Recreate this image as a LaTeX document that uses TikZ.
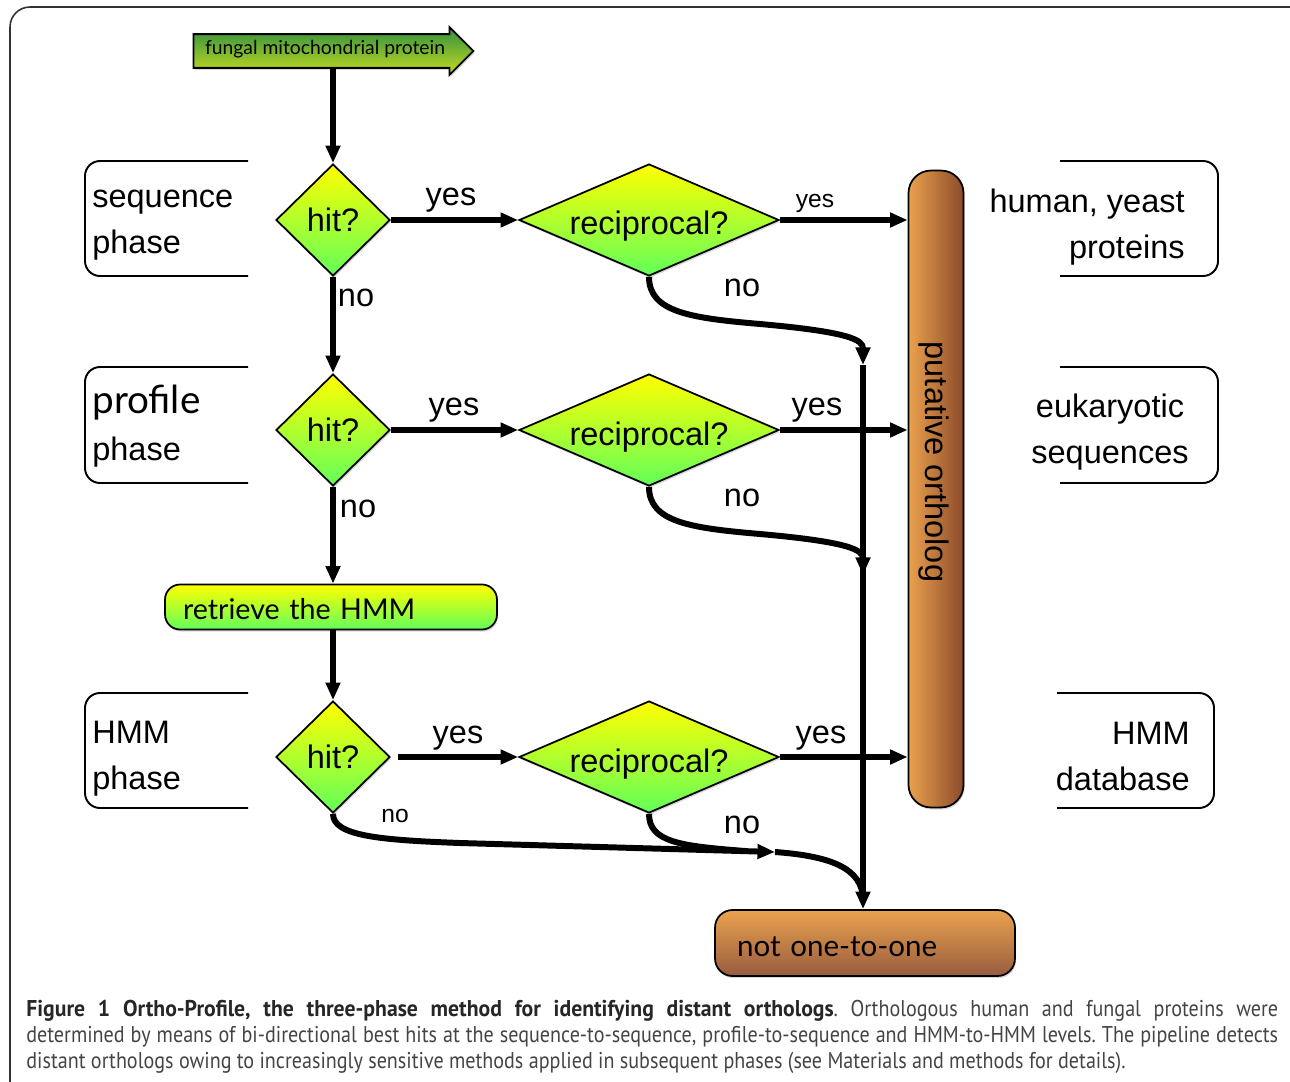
\documentclass[tikz,border=0pt]{standalone}
\usepackage{fontspec}
\setmainfont{Liberation Sans}
\newfontfamily\gillfont{Lato}
\newfontfamily\capfont[FakeStretch=0.88,BoldFeatures={FakeStretch=0.95}]{PT Sans}
\usetikzlibrary{arrows.meta,shapes.geometric,shapes.arrows,shadows}

\definecolor{lemon}{HTML}{FFFF00}
\definecolor{leafgreen}{HTML}{62FF5A}
\definecolor{apricot}{HTML}{EAA24E}
\definecolor{rust}{HTML}{8C4A2A}
\definecolor{moss}{HTML}{2F8F3F}
\definecolor{lime}{HTML}{C6DC20}
\definecolor{capgray}{HTML}{444444}

\tikzset{
  big/.style={font=\fontsize{18.5}{26}\selectfont},
  small/.style={font=\fontsize{14}{16}\selectfont},
  lab/.style={big, inner sep=0pt},
  smalllab/.style={small, inner sep=0pt},
  flow/.style={line width=3.4pt, -{Triangle[length=10pt,width=8pt]}},
  plainflow/.style={line width=3.4pt},
  softshadow/.style={drop shadow={shadow xshift=0.6pt,shadow yshift=-1.2pt,opacity=0.3}},
  hitbox/.style={diamond, draw, line width=1pt, minimum width=2.28cm, minimum height=2.24cm,
    inner sep=0pt, top color=lemon, bottom color=leafgreen, big, softshadow},
  recipbox/.style={hitbox, minimum width=5.2cm, aspect=2.3, text height=0.62cm, text depth=0.02cm},
  bracket/.style={line width=1.1pt, rounded corners=0.3cm},
  framebox/.style={line width=0.9pt, black!80, rounded corners=0.4cm},
}

\begin{document}
\begin{tikzpicture}[x=0.02cm,y=-0.02cm]
\useasboundingbox (0,0) rectangle (1290,1081);
\draw[framebox] (10,7) rectangle (1330,1120);

% start arrow
\node[single arrow, draw, line width=1pt, top color=moss, bottom color=lime,
  minimum height=5.6cm, single arrow head extend=0.14cm, single arrow head indent=0pt,
  text height=0.24cm, text depth=0.1cm, inner ysep=0.15cm, inner xsep=0.1cm,
  font=\gillfont\fontsize{11}{13}\selectfont, softshadow] (protein) at (325,51) {fungal mitochondrial protein};

% phase brackets
\draw[bracket] (248,161) -- (85,161) -- (85,276) -- (248,276);
\draw[bracket] (248,367) -- (85,367) -- (85,483) -- (248,483);
\draw[bracket] (248,693) -- (85,693) -- (85,808) -- (248,808);
\draw[bracket] (1060,161) -- (1218,161) -- (1218,276) -- (1060,276);
\draw[bracket] (1060,367) -- (1218,367) -- (1218,483) -- (1060,483);
\draw[bracket] (1057,693) -- (1214,693) -- (1214,808) -- (1057,808);

\node[lab, anchor=base west, align=left] (seqtxt) at (92,253) {sequence\\phase};
\node[inner sep=0pt, anchor=base west, font=\gillfont\fontsize{22}{26}\selectfont] (proftxt) at (92,413) {profile};
\node[lab, anchor=base west] (profphase) at (92,460) {phase};
\node[lab, anchor=base west, align=left] (hmmtxt) at (92,789) {HMM\\phase};
\node[lab, anchor=base east, align=right] (humantxt) at (1185,258) {human, yeast\\proteins};
\node[lab, anchor=base, align=center] (eukatxt) at (1110,463) {eukaryotic\\sequences};
\node[lab, anchor=base east, align=right] (dbtxt) at (1190,790) {HMM\\database};

% decisions
\node[hitbox] (hit1) at (333,220) {hit?};
\node[hitbox] (hit2) at (333,430) {hit?};
\node[hitbox] (hit3) at (333,757) {hit?};
\node[recipbox] (recip1) at (649,220) {reciprocal?};
\node[recipbox] (recip2) at (649,430) {reciprocal?};
\node[recipbox] (recip3) at (649,757) {reciprocal?};

\node[draw, line width=1pt, rounded corners=0.3cm, top color=lemon, bottom color=leafgreen,
  minimum width=6.64cm, minimum height=0.9cm, text width=5.92cm, inner xsep=0.36cm, align=left,
  text height=0.5cm, text depth=0cm,
  font=\gillfont\fontsize{16.3}{20}\selectfont, softshadow] (retrieve) at (331,607) {retrieve the HMM};

\node[draw, line width=1pt, rounded corners=0.45cm, left color=apricot, right color=rust,
  minimum width=1.1cm, minimum height=12.74cm, softshadow] (ortho) at (936,489) {};
\node[big, rotate=-90, inner sep=0pt] (orthotxt) at (934,462) {putative ortholog};

\node[draw, line width=1pt, rounded corners=0.35cm, top color=apricot, bottom color=rust!90,
  minimum width=6cm, minimum height=1.32cm, text width=5.12cm, inner xsep=0.44cm, align=left,
  text height=0.52cm, text depth=0cm,
  font=\gillfont\fontsize{16.8}{20}\selectfont, softshadow] (notone) at (865,943) {not one-to-one};

\coordinate (join1) at (863,365);
\coordinate (join2) at (863,575);
\coordinate (merge) at (775,852);

% connectors
\draw[flow] (protein.south -| hit1) -- (hit1.north);
\draw[flow] (hit1.south) -- (hit2.north);
\draw[flow] (hit2.south) -- (hit2.south |- retrieve.north);
\draw[flow] (retrieve.south -| hit3) -- (hit3.north);

\draw[flow] (hit1.east) -- (recip1.west);
\draw[flow] (hit2.east) -- (recip2.west);
\draw[flow, shorten <=4pt] (hit3.east) -- (recip3.west);

\draw[flow] (recip1.east) -- (recip1.east -| ortho.west);
\draw[flow] (recip2.east) -- (recip2.east -| ortho.west);
\draw[flow] (recip3.east) -- (recip3.east -| ortho.west);

\draw[flow] (recip1.south) .. controls (649,312) and (690,318) .. (760,324) .. controls (850,332) and (863,340) .. (join1);
\draw[flow] (recip2.south) .. controls (649,522) and (690,528) .. (760,534) .. controls (850,542) and (863,550) .. (join2);
\draw[flow] (join1) -- (join1 |- notone.north);

\draw[flow] (hit3.south) .. controls (333,836) and (380,840) .. (460,843) -- (merge);
\draw[plainflow] (merge) .. controls (830,856) and (863,868) .. (863,900);
\draw[plainflow] (recip3.south) .. controls (649,842) and (680,846) .. (745,851);

% labels
\node[lab] (yes1) at (451,200) {yes};
\node[smalllab] (yes2) at (815,203) {yes};
\node[lab] (yes3) at (454,410) {yes};
\node[lab] (yes4) at (817,410) {yes};
\node[lab] (yes5) at (458,738) {yes};
\node[lab] (yes6) at (821,738) {yes};
\node[lab] (no1) at (356,298) {no};
\node[lab] (no2) at (358,509) {no};
\node[smalllab] (no3) at (395,816) {no};
\node[lab] (no4) at (742,288) {no};
\node[lab] (no5) at (742,498) {no};
\node[lab] (no6) at (742,825) {no};

% caption
\node[anchor=base west, inner sep=0pt, text=capgray] (caption) at (26,1016) {\parbox[t]{25.04cm}{\leavevmode\capfont\fontsize{13}{14.9}\selectfont\frenchspacing\hyphenpenalty=10000\exhyphenpenalty=10000
{\bfseries\color{black!85}Figure 1 Ortho-Profile, the three-phase method for identifying distant orthologs}. Orthologous human and fungal proteins were\linebreak
determined by means of bi-directional best hits at the sequence-to-sequence, profile-to-sequence and HMM-to-HMM levels. The pipeline detects\linebreak
distant orthologs owing to increasingly sensitive methods applied in subsequent phases (see Materials and methods for details).}};
\end{tikzpicture}
\end{document}
